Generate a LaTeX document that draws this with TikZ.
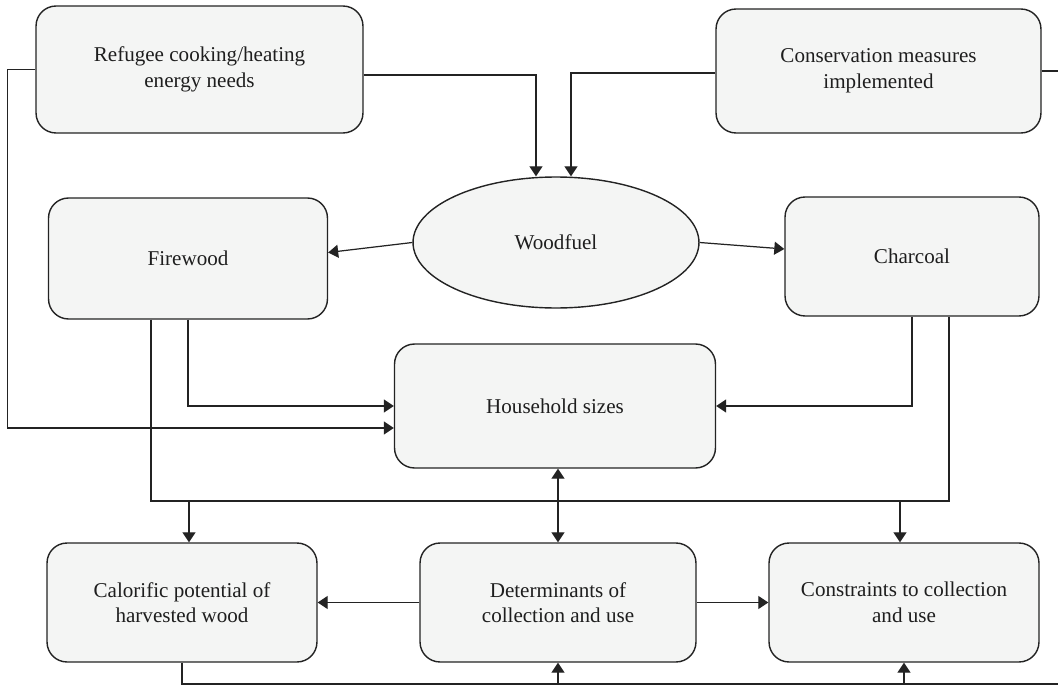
\documentclass[tikz,border=0pt]{standalone}
\usepackage{fontspec}
\setmainfont{Liberation Serif}
\usepackage{tikz}
\usetikzlibrary{shapes.geometric, arrows.meta, positioning}
\definecolor{box_fill}{RGB}{244,245,244}
\definecolor{box_line}{RGB}{35,35,35}
\definecolor{txt_dark}{RGB}{30,30,30}

\begin{document}
\begin{tikzpicture}[
    x=0.02cm, y=-0.02cm,
    factor/.style={
        draw=box_line, fill=box_fill, line width=0.8pt,
        rounded corners=0.4cm, align=center, text=txt_dark,
        font=\fontsize{12}{14.5}\selectfont
    },
    link/.style={draw=box_line, line width=0.7pt},
    arr/.style={link, -{Triangle[length=2mm, width=2.6mm]}},
    dbl/.style={link, {Triangle[length=2mm, width=2.6mm]}-{Triangle[length=2mm, width=2.6mm]}}
]
    \useasboundingbox (0,0) rectangle (1058,686);

    % top row
    \node[factor, minimum width=6.54cm, minimum height=2.54cm]
        (refugee) at (199.5,69.5) {Refugee cooking/heating\\energy needs};
    \node[factor, minimum width=6.5cm, minimum height=2.48cm]
        (conservation) at (878.5,71) {Conservation measures\\implemented};

    % woodfuel and its two forms
    \node[ellipse, draw=box_line, fill=box_fill, line width=0.8pt,
        minimum width=5.72cm, minimum height=2.62cm, text=txt_dark,
        font=\fontsize{12}{14.5}\selectfont]
        (woodfuel) at (556,242.5) {Woodfuel};
    \node[factor, minimum width=5.58cm, minimum height=2.42cm]
        (firewood) at (188,258.5) {Firewood};
    \node[factor, minimum width=5.08cm, minimum height=2.38cm]
        (charcoal) at (912,256.5) {Charcoal};

    \node[factor, minimum width=6.42cm, minimum height=2.48cm]
        (household) at (555,406) {Household sizes};

    % bottom row
    \node[factor, minimum width=5.4cm, minimum height=2.38cm]
        (calorific) at (182,602.5) {Calorific potential of\\harvested wood};
    \node[factor, minimum width=5.52cm, minimum height=2.38cm]
        (determinants) at (558,602.5) {Determinants of\\collection and use};
    \node[factor, minimum width=5.4cm, minimum height=2.38cm]
        (constraints) at (904,602.5) {Constraints to collection\\and use};

    \coordinate (bus) at (556,501);
    \coordinate (con_free) at (1058,71);
    \coordinate (bot_free) at (1058,684);

    % connectors
    \draw[arr] ([yshift=-0.11cm]refugee.east) -| ([xshift=-0.4cm]woodfuel.north);
    \draw[arr] ([yshift=-0.04cm]conservation.west) -| ([xshift=0.3cm]woodfuel.north);
    \draw[link] (conservation.east) -- (con_free);
    \draw[arr] (refugee.west) -- ++(-28,0) |- ([yshift=-0.44cm]household.west);

    \draw[arr] (woodfuel.west) -- ([yshift=0.12cm]firewood.east);
    \draw[arr] (woodfuel.east) -- ([yshift=0.15cm]charcoal.west);

    \draw[arr] (firewood.south) |- (household.west);
    \draw[arr] (charcoal.south) |- (household.east);

    \draw[link] ([xshift=-0.74cm]firewood.south) |- (bus)
        -| ([xshift=0.74cm]charcoal.south);
    \draw[arr] ([xshift=0.14cm]calorific.north |- bus) -- ([xshift=0.14cm]calorific.north);
    \draw[arr] ([xshift=-0.08cm]constraints.north |- bus) -- ([xshift=-0.08cm]constraints.north);

    \draw[dbl] (determinants.north |- household.south) -- (determinants.north);

    \draw[arr] (determinants.west) -- (calorific.east);
    \draw[arr] (determinants.east) -- (constraints.west);

    \draw[link] (calorific.south) |- (bot_free);
    \draw[arr] (determinants.south |- bot_free) -- (determinants.south);
    \draw[arr] (constraints.south |- bot_free) -- (constraints.south);
\end{tikzpicture}
\end{document}
